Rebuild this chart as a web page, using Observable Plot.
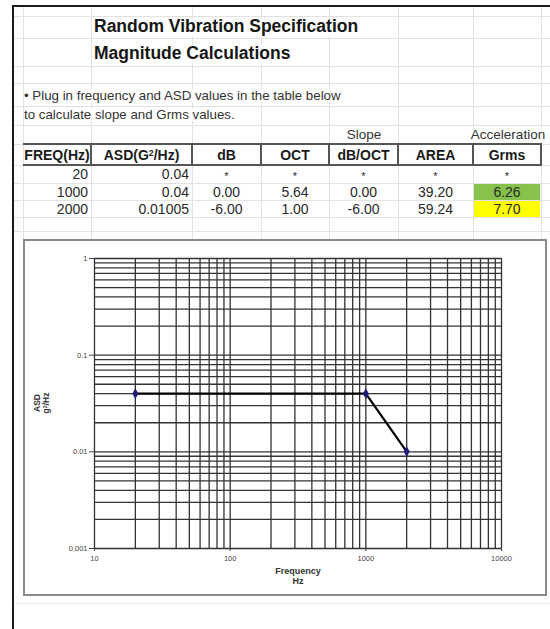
<!DOCTYPE html>
<html><head><meta charset="utf-8">
<script src="https://cdn.jsdelivr.net/npm/d3@7"></script>
<script src="https://cdn.jsdelivr.net/npm/@observablehq/plot@0.6"></script>
<style>
html,body{margin:0;padding:0;background:#fff;}
#page{position:relative;width:550px;height:629px;overflow:hidden;font-family:"Liberation Sans",Arial,sans-serif;background:#fff;}
.t{position:absolute;white-space:nowrap;line-height:1;}
.ln{position:absolute;}
sup{font-size:0.62em;vertical-align:0;position:relative;top:-0.45em;}
</style></head><body><div id="page"></div>
<script>
// ---- data ----
const freqs = [20, 1000, 2000];
const asd = [0.04, 0.04, 0.01005];
const freqText = ["20", "1000", "2000"];
const asdText = ["0.04", "0.04", "0.01005"];
const dBText = ["*", "0.00", "-6.00"];
const octText = ["*", "5.64", "1.00"];
const slopeText = ["*", "0.00", "-6.00"];
const areaText = ["*", "39.20", "59.24"];
const grmsText = ["*", "6.26", "7.70"];
const headers = ["FREQ(Hz)", "ASD(G<sup>2</sup>/Hz)", "dB", "OCT", "dB/OCT", "AREA", "Grms"];
const titleLines = ["Random Vibration Specification", "Magnitude Calculations"];
const noteLines = ["• Plug in frequency and ASD values in the table below", "to calculate slope and Grms values."];
const xTicks = [10, 100, 1000, 10000];
const yTicks = [0.001, 0.01, 0.1, 1];

// ---- layout ----
const page = document.getElementById("page");
const colX = [23, 91, 192, 261, 329, 398, 473, 541];
const rowY = [16, 38, 66, 83, 106, 125, 144, 165, 183, 200, 217, 231];

function line(x, y, w, h, color) {
  const d = document.createElement("div");
  d.className = "ln";
  Object.assign(d.style, {left: x + "px", top: y + "px", width: w + "px", height: h + "px", background: color});
  page.appendChild(d);
  return d;
}
function txt(html, x, y, o = {}) {
  const d = document.createElement("div");
  d.className = "t";
  d.innerHTML = html;
  const tx = o.align === "center" ? "-50%" : o.align === "right" ? "-100%" : "0";
  Object.assign(d.style, {
    left: x + "px", top: y + "px",
    fontSize: (o.size || 14) + "px",
    fontWeight: o.weight || "normal",
    color: o.color || "#222",
    transform: `translate(${tx},-50%)` + (o.rotate ? ` rotate(${o.rotate}deg)` : ""),
    background: o.bg || "transparent"
  });
  page.appendChild(d);
  return d;
}

// spreadsheet light grid
const gridC = "#e2e2e2";
for (const x of colX) line(x, 5, 1, 234, gridC);
for (const y of rowY) line(13, y, 537, 1, gridC);
line(13, 603, 537, 1, "#eeeeee");

// fills
line(474, 184, 66, 16, "#86c24c");
line(474, 201, 66, 16, "#ffff00");

// title + note
txt(titleLines[0], 94, 27, {size: 17.5, weight: "bold", color: "#161616", bg: "#fff"});
txt(titleLines[1], 94, 54, {size: 17.5, weight: "bold", color: "#161616", bg: "#fff"});
txt(noteLines[0], 24, 96, {size: 13.3, color: "#333", bg: "#fff"});
txt(noteLines[1], 24, 115, {size: 13.3, color: "#333", bg: "#fff"});

// table
txt("Slope", 364, 135, {size: 13.5, align: "center", color: "#333"});
txt("Acceleration", 508, 135, {size: 13.5, align: "center", color: "#333", bg: "#fff"});
line(23, 143, 518, 2, "#555");
line(23, 164, 518, 2, "#555");
for (const x of colX.slice(1)) line(x - 1, 143, 2, 23, "#555");
headers.forEach((h, i) => {
  txt(h, (colX[i] + colX[i + 1]) / 2, 155, {size: 14, weight: "bold", align: "center", color: "#1a1a1a"});
});
const rowCenters = [174, 191.5, 208.5];
const cols = [freqText, asdText, dBText, octText, slopeText, areaText, grmsText];
cols.forEach((col, ci) => {
  col.forEach((v, ri) => {
    const y = rowCenters[ri];
    if (ci < 2) txt(v, colX[ci + 1] - 3, y, {size: 14, align: "right", color: "#2a2a2a"});
    else txt(v, (colX[ci] + colX[ci + 1]) / 2, y + (v === "*" ? 2 : 0), {size: v === "*" ? 11 : 14, align: "center", color: "#2a2a2a"});
  });
});

// page borders
line(12, 5, 538, 2, "#1a1a1a");
line(12, 5, 2, 624, "#1a1a1a");

// ---- chart ----
const points = freqs.map((f, i) => ({freq: f, asd: asd[i]}));
const k9 = [1, 2, 3, 4, 5, 6, 7, 8, 9];
const xGrid = xTicks.slice(0, -1).flatMap(d => k9.map(k => k * d)).concat([xTicks[xTicks.length - 1]]);
const yGrid = yTicks.slice(0, -1).flatMap(d => k9.map(k => +(k * d).toPrecision(3))).concat([yTicks[yTicks.length - 1]]);

const chart = Plot.plot({
  width: 524,
  height: 357,
  marginLeft: 71,
  marginRight: 46,
  marginTop: 19,
  marginBottom: 48,
  style: {fontSize: "7.5px", fontFamily: "'Liberation Sans', Arial, sans-serif", color: "#444", background: "#fff", overflow: "visible"},
  x: {type: "log", domain: [10, 10000], ticks: xTicks, tickFormat: d => String(d), label: null, tickSize: 3, tickPadding: 4},
  y: {type: "log", domain: [0.001, 1], ticks: yTicks, tickFormat: d => String(d), label: null, tickSize: 5, tickPadding: 2},
  marks: [
    Plot.ruleX(xGrid, {stroke: "#333", strokeWidth: 1.3}),
    Plot.ruleY(yGrid, {stroke: "#333", strokeWidth: 1.3}),
    Plot.line(points, {x: "freq", y: "asd", stroke: "#000", strokeWidth: 2.2}),
    Plot.dot(points, {x: "freq", y: "asd", symbol: "diamond", r: 3.2, fill: "#1c1c78", stroke: "none"})
  ]
});
const holder = document.createElement("div");
Object.assign(holder.style, {position: "absolute", left: "23px", top: "239px", width: "524px", height: "357px"});
holder.appendChild(chart);
page.appendChild(holder);
const frame = document.createElement("div");
Object.assign(frame.style, {position: "absolute", left: "23px", top: "239px", width: "524px", height: "357px", boxSizing: "border-box", border: "2px solid #8a8a8a"});
page.appendChild(frame);

// axis titles
txt("ASD", 37, 403, {size: 8.5, weight: "bold", align: "center", rotate: -90, color: "#333"});
txt("g<sup>2</sup>/Hz", 46, 403, {size: 8.5, weight: "bold", align: "center", rotate: -90, color: "#333"});
txt("Frequency", 298, 571, {size: 9, weight: "bold", align: "center", color: "#333"});
txt("Hz", 298, 581, {size: 9, weight: "bold", align: "center", color: "#333"});
</script></body></html>
